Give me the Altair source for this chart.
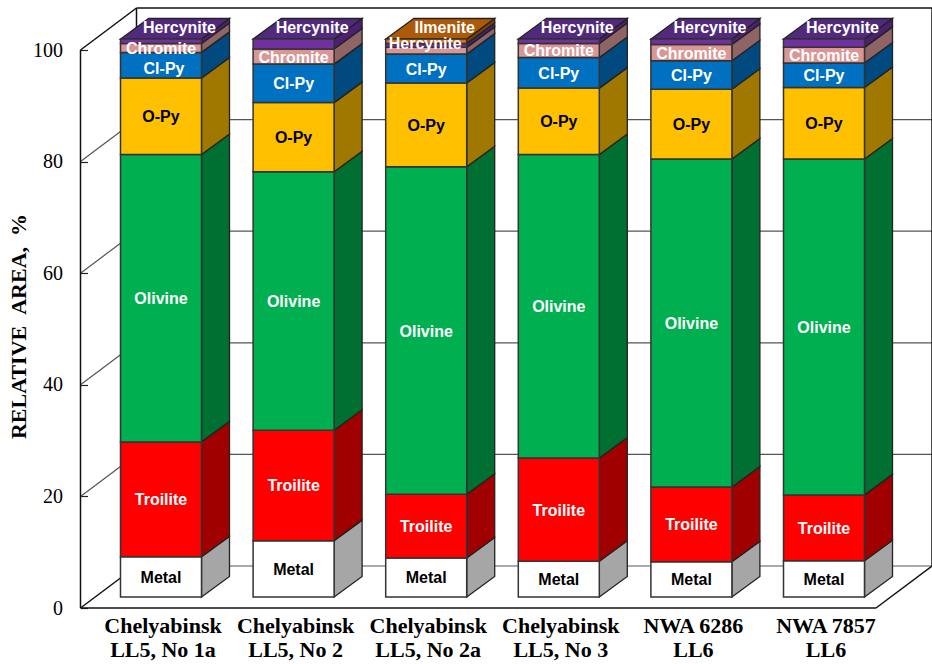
import altair as alt
import pandas as pd

# Stacked composition of each meteorite sample, in relative area percent.
samples_top = ["Chelyabinsk", "Chelyabinsk", "Chelyabinsk", "Chelyabinsk", "NWA 6286", "NWA 7857"]
samples_low = ["LL5, No 1a", "LL5, No 2", "LL5, No 2a", "LL5, No 3", "LL6", "LL6"]

metal = [7.2, 10.1, 7.0, 6.4, 6.3, 6.5]
troilite = [20.6, 19.8, 11.4, 18.5, 13.4, 11.8]
olivine = [51.5, 46.3, 58.7, 54.4, 58.8, 60.2]
o_py = [13.7, 12.4, 15.0, 11.9, 12.5, 12.8]
cl_py = [4.6, 6.9, 5.2, 5.5, 5.1, 4.4]
chromite = [1.6, 2.7, 1.2, 2.5, 2.9, 2.8]
hercynite = [0.8, 1.8, 0.7, 0.8, 1.0, 1.5]
ilmenite = [0, 0, 0.8, 0, 0, 0]

minerals = ["Metal", "Troilite", "Olivine", "O-Py", "Cl-Py", "Chromite", "Hercynite", "Ilmenite"]
series = [metal, troilite, olivine, o_py, cl_py, chromite, hercynite, ilmenite]
front_colors = ["#FFFFFF", "#FF0000", "#00B050", "#FFC000", "#0070C0", "#D99694", "#7030A0", "#E36C09"]
side_colors = ["#A6A6A6", "#A00000", "#006F32", "#A07800", "#004A80", "#8F6464", "#4B2070", "#7A3E08"]
top_colors = ["#FFFFFF", "#FF0000", "#00B050", "#FFC000", "#0070C0", "#D99694", "#512A7E", "#AD5A08"]
text_colors = ["black", "white", "white", "black", "white", "white", "white", "white"]

# Oblique projection: the x scale runs in screen units, y in percent units.
PX_PER_PCT = 5.58
FRONT_X, BACK_X, RIGHT_X = 80.5, 136.5, 876
WALL_DY = 42 / PX_PER_PCT
BAR_X0, BAR_STEP, BAR_W = 120.5, 132.6, 81
BAR_DX, BAR_DY = 28, 20.5 / PX_PER_PCT
BAR_LIFT = 11 / PX_PER_PCT
TOP_LABEL_DX, TOP_LABEL_RISE = 18.5, 11 / PX_PER_PCT
LABEL_DROP = 1 / PX_PER_PCT

# Segments too thin to carry a label, and labels shifted off their segment centre.
unlabelled = {(2, 5)}
label_nudges = {(0, 4): (3, -3 / PX_PER_PCT), (2, 6): (-1, 2 / PX_PER_PCT)}

x_scale = alt.Scale(domain=[0, 932], nice=False, zero=False)
y_scale = alt.Scale(domain=[-56 / PX_PER_PCT, 608 / PX_PER_PCT], nice=False, zero=False)

y_axis = alt.Axis(
    values=[0, 20, 40, 60, 80, 100],
    orient="left",
    offset=-87.5,
    domain=False,
    grid=False,
    tickSize=7,
    tickColor="#222222",
    tickWidth=1.2,
    labelPadding=18,
    labelFont="Liberation Serif",
    labelFontSize=20,
    labelColor="black",
    title="RELATIVE\u00a0\u00a0AREA,\u00a0\u00a0%",
    titleFont="Liberation Serif",
    titleFontSize=22,
    titleFontWeight="bold",
    titleColor="black",
    titleBaseline="alphabetic",
    titleX=-62,
    titleY=326,
)

x_enc = alt.X("x:Q", scale=x_scale, axis=None)
y_enc = alt.Y("y:Q", scale=y_scale, axis=y_axis)

# Front, side and top faces plus labels for every stacked segment.
fronts, sides, tops, labels = [], [], [], []
for b in range(len(samples_top)):
    left = BAR_X0 + b * BAR_STEP
    right = left + BAR_W
    centre = left + BAR_W / 2
    base = 0.0
    stack = [(m, s[b]) for m, s in enumerate(series) if s[b] > 0]
    for pos, (m, thick) in enumerate(stack):
        y0, y1 = base + BAR_LIFT, base + thick + BAR_LIFT
        key = f"{b}-{m}"
        fronts.append(dict(x=left, x2=right, y=y0, y2=y1, fill=front_colors[m]))
        sides.append(dict(key=key, x=right, y=y0, y2=y1, fill=side_colors[m]))
        sides.append(dict(key=key, x=right + BAR_DX, y=y0 + BAR_DY, y2=y1 + BAR_DY, fill=side_colors[m]))
        is_top = pos == len(stack) - 1
        if is_top:
            tops.append(dict(key=key, y=y1, x=left, x2=right, fill=top_colors[m]))
            tops.append(dict(key=key, y=y1 + BAR_DY, x=left + BAR_DX, x2=right + BAR_DX, fill=top_colors[m]))
        if (b, m) not in unlabelled:
            nudge_x, nudge_y = label_nudges.get((b, m), (0, 0))
            # The uppermost mineral of a bar is labelled on the bar's top face.
            if is_top:
                label_x, label_y = centre + TOP_LABEL_DX, y1 + TOP_LABEL_RISE
            else:
                label_x, label_y = centre, (y0 + y1) / 2 - LABEL_DROP
            labels.append(dict(
                x=label_x + nudge_x,
                y=label_y + nudge_y,
                label=minerals[m],
                color=text_colors[m],
            ))
        base += thick

# Box edges: left wall, floor, back wall and its percent gridlines.
frame_edges = []
def edge(name, x0, y0, x1, y1):
    frame_edges.append(dict(key=name, x=x0, y=y0))
    frame_edges.append(dict(key=name, x=x1, y=y1))

wall_top = 100
back_right = BACK_X + (RIGHT_X - FRONT_X)
edge("left", FRONT_X, 0, FRONT_X, wall_top)
edge("left-top", FRONT_X, wall_top, BACK_X, wall_top + WALL_DY)
edge("back-top", BACK_X, wall_top + WALL_DY, back_right, wall_top + WALL_DY)
edge("back-left", BACK_X, WALL_DY, BACK_X, wall_top + WALL_DY)
edge("back-right", back_right, WALL_DY, back_right, wall_top + WALL_DY)
edge("floor-front", FRONT_X, 0, RIGHT_X, 0)
edge("floor-left", FRONT_X, 0, BACK_X, WALL_DY)
edge("floor-right", RIGHT_X, 0, back_right, WALL_DY)

grid_edges = []
for v in [0, 20, 40, 60, 80]:
    grid_edges.append(dict(key=f"b{v}", x=BACK_X, y=v + WALL_DY))
    grid_edges.append(dict(key=f"b{v}", x=back_right, y=v + WALL_DY))
    if v > 0:
        grid_edges.append(dict(key=f"l{v}", x=FRONT_X, y=v))
        grid_edges.append(dict(key=f"l{v}", x=BACK_X, y=v + WALL_DY))

name_rows = []
for b, (a, c) in enumerate(zip(samples_top, samples_low)):
    cx = BAR_X0 + b * BAR_STEP + BAR_W / 2 + 2
    name_rows.append(dict(x=cx, y=-25 / PX_PER_PCT, label=a))
    name_rows.append(dict(x=cx, y=-49 / PX_PER_PCT, label=c))

grid_layer = (
    alt.Chart(pd.DataFrame(grid_edges))
    .mark_line(color="#555555", strokeWidth=1.2)
    .encode(x=x_enc, y=y_enc, detail="key:N")
)

frame_layer = (
    alt.Chart(pd.DataFrame(frame_edges))
    .mark_line(color="#111111", strokeWidth=1.5)
    .encode(x=x_enc, y=y_enc, detail="key:N")
)

side_layer = (
    alt.Chart(pd.DataFrame(sides))
    .mark_area(stroke="#222222", strokeWidth=1.3, opacity=1)
    .encode(x=x_enc, y=y_enc, y2="y2:Q", color=alt.Color("fill:N", scale=None), detail="key:N")
)

top_layer = (
    alt.Chart(pd.DataFrame(tops))
    .mark_area(orient="horizontal", stroke="#222222", strokeWidth=1.3, opacity=1)
    .encode(y=y_enc, x=x_enc, x2="x2:Q", color=alt.Color("fill:N", scale=None), detail="key:N")
)

front_layer = (
    alt.Chart(pd.DataFrame(fronts))
    .mark_rect(stroke="#333333", strokeWidth=1.5)
    .encode(x=x_enc, x2="x2:Q", y=y_enc, y2="y2:Q", fill=alt.Fill("fill:N", scale=None))
)

label_layer = (
    alt.Chart(pd.DataFrame(labels))
    .mark_text(font="Liberation Sans", fontWeight="bold", fontSize=16, baseline="middle", align="center")
    .encode(x=x_enc, y=y_enc, text="label:N", color=alt.Color("color:N", scale=None))
)

name_layer = (
    alt.Chart(pd.DataFrame(name_rows))
    .mark_text(font="Liberation Serif", fontWeight="bold", fontSize=22, baseline="alphabetic", align="center", color="black")
    .encode(x=x_enc, y=y_enc, text="label:N")
)

chart = (
    alt.layer(grid_layer, frame_layer, side_layer, top_layer, front_layer, label_layer, name_layer)
    .properties(width=932, height=664, padding=0, autosize=alt.AutoSizeParams(type="none"), background="white")
    .configure_view(stroke=None)
)

chart.save("out.html", embed_options={"renderer": "svg", "actions": False})
